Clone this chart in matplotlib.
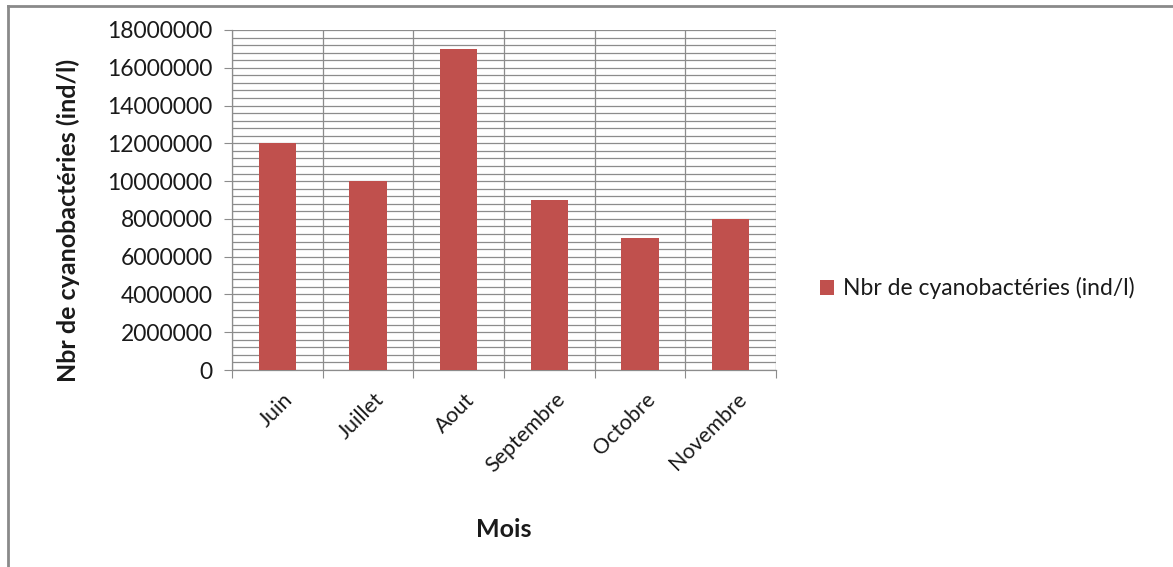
import numpy as np
import matplotlib.pyplot as plt
from matplotlib.lines import Line2D
from matplotlib.ticker import MultipleLocator

mois = ["Juin", "Juillet", "Aout", "Septembre", "Octobre", "Novembre"]
cyano = [12000000, 10000000, 17000000, 9000000, 7000000, 8000000]
serie = "Nbr de cyanobactéries (ind/l)"

plt.rcParams["font.family"] = ["Lato", "DejaVu Sans"]
text_col = "#1a1a1a"
bar_col = "#C0504D"
grid_col = "#8c8c8c"

fig = plt.figure(figsize=(11.73, 5.67), dpi=100)
ax = fig.add_axes([0.1978, 0.3474, 0.4638, 0.5997])

x = np.arange(len(mois))
bars = ax.bar(x, cyano, width=0.41, color=bar_col, zorder=3, label=serie)

ax.set_xlim(-0.5, len(mois) - 0.5)
ax.set_ylim(0, 18000000)
ax.yaxis.set_major_locator(MultipleLocator(2000000))
ax.yaxis.set_minor_locator(MultipleLocator(400000))
ax.set_yticklabels([f"{int(v)}" for v in ax.get_yticks()])

# category boundaries carry the vertical grid and the x ticks
ax.set_xticks(np.arange(len(mois) + 1) - 0.5)
ax.set_xticklabels([])
ax.set_xticks(x + 0.06, minor=True)
ax.set_xticklabels(mois, minor=True, rotation=45, ha="right", va="top",
                   rotation_mode="anchor", fontsize=15.5, color=text_col)
ax.tick_params(axis="x", which="minor", length=0, pad=14)
ax.tick_params(axis="x", which="major", length=6, color=grid_col, direction="out")
ax.tick_params(axis="y", which="major", length=6, color=grid_col,
               labelsize=16.5, labelcolor=text_col, pad=8)
ax.tick_params(axis="y", which="minor", length=0)

ax.grid(axis="y", which="both", color=grid_col, linewidth=0.9, zorder=0)
ax.grid(axis="x", which="major", color=grid_col, linewidth=0.9, zorder=0)
ax.set_axisbelow(True)

for side in ["top", "right"]:
    ax.spines[side].set_visible(False)
for side in ["left", "bottom"]:
    ax.spines[side].set_color(grid_col)
    ax.spines[side].set_linewidth(0.9)

ax.set_ylabel(serie, fontsize=18, fontweight="bold", color=text_col)
ax.yaxis.set_label_coords(-0.28, 0.44)
ax.set_xlabel("Mois", fontsize=18, fontweight="bold", color=text_col,
              va="center")
ax.xaxis.set_label_coords(0.5, -0.47)

ax.legend(handles=[bars], labels=[serie], loc="center left",
          bbox_to_anchor=(1.043, 0.24), frameon=False, fontsize=16.5,
          handlelength=0.6, handleheight=0.6, handletextpad=0.4,
          labelcolor=text_col)

# outer frame, visible on the top and left edges
fig.add_artist(Line2D([8 / 1173, 1], [1 - 6 / 567, 1 - 6 / 567],
                      transform=fig.transFigure, color="#8a8a8a", linewidth=2))
fig.add_artist(Line2D([8 / 1173, 8 / 1173], [0, 1 - 6 / 567],
                      transform=fig.transFigure, color="#8a8a8a", linewidth=2))

fig.savefig("out.png", dpi=100)
